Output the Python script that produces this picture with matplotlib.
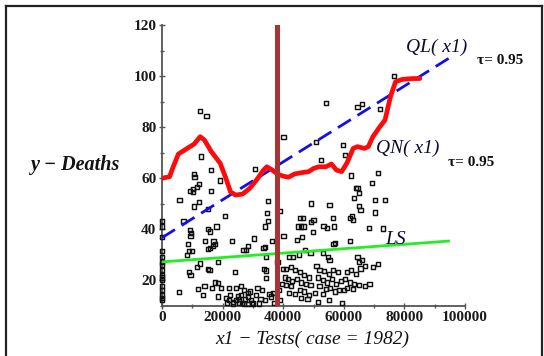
import matplotlib
matplotlib.use("Agg")
import matplotlib.pyplot as plt
from matplotlib.ticker import MultipleLocator
from matplotlib.lines import Line2D

# ---- data ----
pts = [
    (0, 43), (0, 41), (0, 37), (0, 31.5), (0, 29), (0, 27), (0, 26), (0, 24), (0, 22), (0, 21),
    (0, 20), (0, 17.5), (0, 16), (0, 14), (0, 13), (0, 12),
    (5800, 51.4), (7100, 43.3), (5700, 15.4), (8300, 29.8), (8800, 23.3), (9400, 22), (9200, 39.6),
    (9600, 38.3), (9400, 37.3), (9000, 31.5), (10000, 31.5), (8500, 34), (9200, 55), (10100, 55.6),
    (10100, 54.4),
    (12600, 86.3), (14700, 84.3), (12800, 68.4), (10500, 61.6), (10700, 60.3), (12300, 57.5),
    (11500, 56.6), (16300, 63), (16300, 55), (19200, 59), (12300, 50.5), (15100, 48), (10600, 48.8),
    (15300, 40), (15800, 39), (18000, 41), (14300, 35.4), (17000, 35.4), (17400, 34), (16800, 33.4),
    (15800, 32.5), (15100, 32), (12600, 26.5), (11500, 25.2), (18400, 27.2), (15100, 24.2),
    (15700, 24), (17500, 19), (18600, 18.8), (14000, 17.5), (13600, 14), (18600, 13.5), (12000, 16.5),
    (16500, 17), (19500, 17),
    (20900, 45), (23000, 35.4), (24100, 23.3), (26900, 31.8), (28400, 33.4), (27800, 31.8),
    (22000, 17), (24500, 17), (26200, 17.5), (27000, 16), (28500, 15), (21000, 13), (22000, 12),
    (23500, 11.5), (24500, 12), (25500, 12.5), (26500, 11), (27500, 12.5), (28500, 13.5), (29500, 12),
    (29800, 11), (21500, 11), (23500, 10.8), (25500, 11), (27000, 10.5), (28500, 10.5), (30000, 10.8),
    (26000, 14), (29000, 15.5), (25000, 13.5), (22500, 14),
    (30700, 63.4), (30500, 36.3), (34000, 32.8), (34400, 28.9), (34600, 46.4), (35100, 51.1),
    (35100, 43.1), (34000, 41), (36400, 35.4), (33500, 32.4), (33700, 24.2), (34400, 23.7),
    (34300, 20.7), (31500, 17), (33000, 16), (31000, 14), (32500, 12.5), (34000, 12), (35500, 14.5),
    (36000, 13.5), (36500, 15), (32000, 10.8), (37000, 11), (38100, 27.2), (39000, 47.2), (40100, 76),
    (40100, 37.3), (39800, 24.2), (39500, 18.5), (38500, 16), (39000, 12),
    (41000, 24.2), (41900, 29), (43200, 29), (45200, 30), (44500, 35.6), (46200, 37), (45600, 44.2),
    (46500, 44.4), (44900, 41), (46000, 41), (46700, 41), (49200, 42.9), (50000, 43.5), (49800, 38.7),
    (49200, 50), (47300, 31.8), (49000, 30.5), (42500, 25), (44000, 24), (45500, 23), (47000, 22),
    (48500, 21), (41500, 20.5), (43000, 19.5), (44500, 20.5), (46000, 19), (47500, 18.5), (49000, 18),
    (42000, 15), (44000, 14.5), (45500, 16), (47000, 15.5), (48500, 14), (46000, 13), (48000, 12.5),
    (42500, 17.5), (41000, 18), (40500, 21),
    (50900, 74), (52500, 67.2), (54100, 89.3), (59600, 73), (60400, 69), (55300, 49.4), (53300, 41.2),
    (54400, 40.5), (56300, 44.3), (56800, 41), (56600, 34.1), (57100, 34.4), (53200, 30.5),
    (54700, 29), (55300, 28), (51000, 25.5), (52000, 24), (53500, 23.5), (55000, 22.5), (56500, 24),
    (58000, 23), (51500, 21), (53000, 20), (54500, 19), (56000, 20.5), (57500, 18.5), (59000, 19.5),
    (52000, 17.5), (54000, 16.5), (55500, 17), (57000, 15.5), (58500, 16), (53000, 14.5), (55000, 12),
    (59500, 11), (51500, 11.5), (50500, 15),
    (62400, 61), (63900, 56), (64500, 56), (64900, 54), (62100, 44.4), (62800, 45.2), (63100, 43.5),
    (64900, 49.1), (65500, 47.5), (62100, 35.4), (68200, 40.3), (69300, 58), (70200, 46.5),
    (64500, 88), (66000, 89), (63300, 52), (61000, 23), (62500, 24), (64000, 22.5), (65500, 24.5),
    (67000, 25.5), (64500, 29), (66000, 28), (65000, 27), (60500, 20.5), (62000, 19), (63500, 18.5),
    (65000, 18), (67000, 17.5), (68500, 18.4), (61000, 17), (60000, 16), (63000, 16.5),
    (71300, 62), (70200, 51.4), (73600, 51.4), (72800, 40.2), (69600, 25.2), (71200, 26.3),
    (71900, 87), (76500, 100),
]
tests_x = [p[0] for p in pts]
deaths_y = [p[1] for p in pts]

qn_x = [0, 2500, 3700, 5400, 8300, 10600, 12600, 14000, 16300, 19200, 20900, 22600, 24300, 26600,
        28900, 31200, 33500, 34600, 36400, 38100, 39800, 41700, 43800, 46100, 48400, 50100, 51800,
        54100, 55900, 57600, 59300, 61000, 63100, 64500, 66800, 68100, 69600, 71900, 73600, 75400,
        77100, 79400, 82800, 85100]
qn_y = [59.9, 60.5, 64.4, 69.4, 71.6, 73.3, 76.2, 74.9, 70.3, 65.8, 60.5, 54.6, 53.3, 53.7,
        55.9, 59.2, 63.1, 64.4, 63.1, 61.6, 60.8, 60.3, 61.6, 62.1, 62.5, 63.8, 64.4,
        64.4, 65.5, 63.1, 62.5, 65.8, 71.6, 72.3, 71.6, 72.3, 76.2, 80.1, 82.7, 91.9,
        97.8, 98.7, 99.0, 99.0]

ql_x = [0, 95000]
ql_y = [36.6, 107.2]
ls_x = [0, 95000]
ls_y = [27.1, 35.3]
vline_x = 38000

x_ticks = [0, 20000, 40000, 60000, 80000, 100000]
y_ticks = [20, 40, 60, 80, 100, 120]

# ---- figure ----
fig = plt.figure(figsize=(5.44, 3.56), dpi=100)
ax = fig.add_axes([162 / 544, 1 - 305.5 / 356, (465 - 162) / 544, (305.5 - 25) / 356])
ax.set_xlim(0, 100000)
ax.set_ylim(10, 120)

ax.scatter(tests_x, deaths_y, marker='s', s=9, facecolors='none', edgecolors='#111111',
           linewidths=1.05, zorder=3, clip_on=False)
ax.plot(ls_x, ls_y, color='#22ee22', lw=2.0, zorder=4, solid_capstyle='butt')
ax.plot(ql_x, ql_y, color='#1010ee', lw=2.0, dashes=(5.5, 2.8), zorder=4)
ax.plot(qn_x, qn_y, color='#ff0a0a', lw=3.4, zorder=5, solid_joinstyle='round',
        solid_capstyle='round')
ax.axvline(vline_x, color='#a83434', lw=3.6, zorder=6)

for s in ['top', 'right']:
    ax.spines[s].set_visible(False)
for s in ['left', 'bottom']:
    ax.spines[s].set_color('#555555')
    ax.spines[s].set_linewidth(1.3)

ax.set_xticks(x_ticks)
ax.set_yticks(y_ticks)
ax.xaxis.set_minor_locator(MultipleLocator(10000))
ax.yaxis.set_minor_locator(MultipleLocator(10))
ax.tick_params(which='both', direction='inout', color='#555555', width=1.0)
ax.tick_params(which='major', length=4)
ax.tick_params(which='minor', length=3)
tick_font = dict(family='Liberation Serif', weight='bold', size=11)
ax.set_xticklabels([str(t) for t in x_ticks], **tick_font, color='#1a1a1a')
ax.set_yticklabels([str(t) for t in y_ticks], **tick_font, color='#1a1a1a')
ax.tick_params(axis='x', pad=2)
ax.tick_params(axis='y', pad=2)

serif = 'Liberation Serif'
fig.text(312 / 544, 1 - 339 / 356, 'x1 \u2212 Tests( case = 1982)', family=serif, style='italic',
         size=14, ha='center', va='center', color='#111111')
fig.text(75 / 544, 1 - 165 / 356, 'y \u2212 Deaths', family=serif, style='italic', weight='bold',
         size=14.5, ha='center', va='center', color='#111111')

fig.text(437 / 544, 1 - 47 / 356, 'QL( x1)', family=serif, style='italic', size=14,
         ha='center', va='center', color='#0c0c30')
fig.text(500 / 544, 1 - 60 / 356, '\u03c4= 0.95', family=serif, weight='bold', size=11,
         ha='center', va='center', color='#111111')
fig.text(408 / 544, 1 - 148 / 356, 'QN( x1)', family=serif, style='italic', size=14,
         ha='center', va='center', color='#0c0c30')
fig.text(471 / 544, 1 - 162 / 356, '\u03c4= 0.95', family=serif, weight='bold', size=11,
         ha='center', va='center', color='#111111')
fig.text(396 / 544, 1 - 240 / 356, 'LS', family=serif, style='italic', size=14,
         ha='center', va='center', color='#0c0c30')

# outer frame
frame_kw = dict(color='#222222', lw=1.6, transform=fig.transFigure, figure=fig)
fig.lines.append(Line2D([6 / 544, 6 / 544], [0, 1 - 6 / 356], **frame_kw))
fig.lines.append(Line2D([6 / 544, 542 / 544], [1 - 6 / 356, 1 - 6 / 356], **frame_kw))
fig.lines.append(Line2D([542 / 544, 542 / 544], [0, 1 - 6 / 356], **frame_kw))

fig.savefig('out.png', dpi=100)
